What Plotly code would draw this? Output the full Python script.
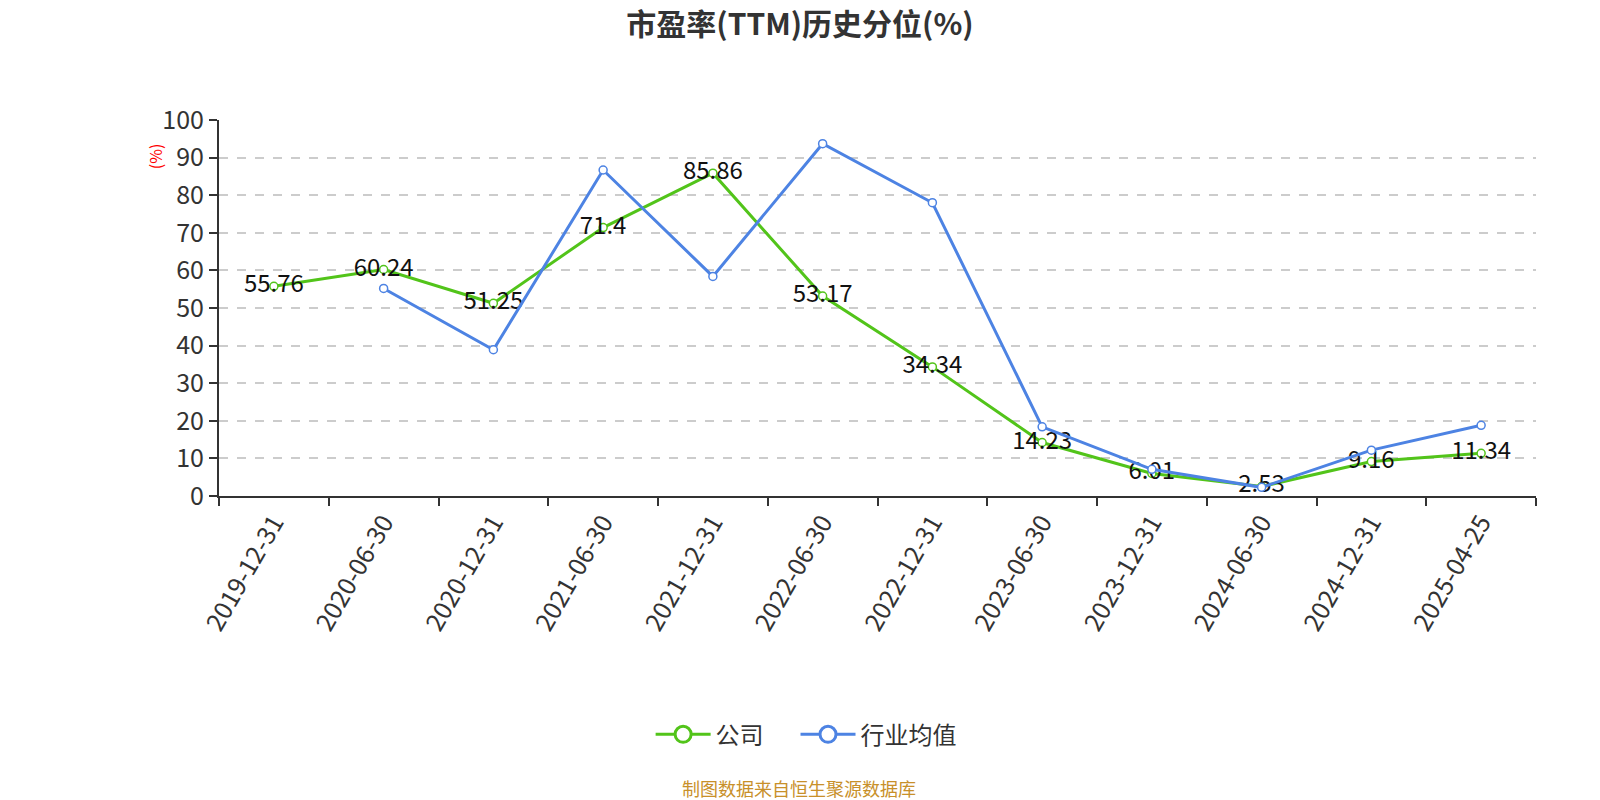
import plotly.graph_objects as go

categories = ["2019-12-31", "2020-06-30", "2020-12-31", "2021-06-30", "2021-12-31", "2022-06-30",
              "2022-12-31", "2023-06-30", "2023-12-31", "2024-06-30", "2024-12-31", "2025-04-25"]
company = [55.76, 60.24, 51.25, 71.4, 85.86, 53.17, 34.34, 14.23, 6.01, 2.53, 9.16, 11.34]
industry = [None, 55.2, 38.9, 86.7, 58.4, 93.7, 78.0, 18.4, 7.1, 2.3, 12.2, 18.8]
series_names = ["公司", "行业均值"]

FONT = "Noto Sans CJK SC"
GREEN = "#52c41a"
BLUE = "#4d83e3"

W, H = 1600, 800
S = 0.98  # screenshot scale of measured reference coords
ML = round(215 / S)
MR = W - round(1505 / S)
MT = round(118 / S)
MB = H - round(486 / S)

plot_w = W - ML - MR
plot_h = H - MT - MB

def px_x(x):
    return (x / S - ML) / plot_w

def px_y(y):
    return (H - MB - y / S) / plot_h

fig = go.Figure()
fig.add_trace(go.Scatter(
    x=categories, y=company, name=series_names[0], mode="lines+markers+text", showlegend=False,
    text=[str(v) for v in company], textposition="middle center",
    textfont=dict(family=FONT, size=24, color="#111111"),
    line=dict(color=GREEN, width=3),
    marker=dict(symbol="circle", size=8, color="white", line=dict(color=GREEN, width=1.5)),
))
fig.add_trace(go.Scatter(
    x=categories, y=industry, name=series_names[1], mode="lines+markers", showlegend=False,
    line=dict(color=BLUE, width=3),
    marker=dict(symbol="circle", size=8, color="white", line=dict(color=BLUE, width=1.5)),
))
# legend-only entries with larger symbols
pads = ["\u00a0" * 5, ""]
for name, col, pad in zip(series_names, [GREEN, BLUE], pads):
    fig.add_trace(go.Scatter(
        x=[None], y=[None], name=name + pad, mode="lines+markers",
        line=dict(color=col, width=3),
        marker=dict(symbol="circle", size=21, color="white", line=dict(color=col, width=3)),
    ))

fig.update_layout(
    width=W, height=H,
    paper_bgcolor="white", plot_bgcolor="white",
    margin=dict(l=ML, r=MR, t=MT, b=MB, autoexpand=False),
    font=dict(family=FONT, color="#333333"),
    title=dict(text="<b>市盈率(TTM)历史分位(%)</b>", x=0.5, xanchor="center", y=1 - 24 / S / H, yanchor="middle",
               font=dict(family=FONT, size=30, color="#333333")),
    showlegend=True,
    legend=dict(orientation="h", x=px_x(790), xanchor="center", y=px_y(720), yanchor="middle",
                font=dict(family=FONT, size=24, color="#333333"), itemwidth=55),
    xaxis=dict(
        type="category", tickson="boundaries", ticks="outside", ticklen=8, tickwidth=2,
        tickcolor="#333333", showline=True, linecolor="#333333", linewidth=2,
        showgrid=False, tickangle=-60, tickfont=dict(family=FONT, size=25, color="#333333"),
        range=[-0.5, 11.5], automargin=False,
    ),
    yaxis=dict(
        range=[0, 100], dtick=10, ticks="outside", ticklen=8, tickwidth=2, tickcolor="#333333",
        showline=True, linecolor="#333333", linewidth=2,
        showgrid=True, gridcolor="#cccccc", griddash="dash", gridwidth=1.5,
        zeroline=False, tickfont=dict(family=FONT, size=25, color="#333333"), automargin=False,
    ),
    annotations=[
        dict(text="(%)", x=px_x(152), y=px_y(153), xref="paper", yref="paper", showarrow=False,
             xanchor="center", yanchor="middle",
             textangle=-90, font=dict(family=FONT, size=16, color="red")),
        dict(text="制图数据来自恒生聚源数据库", x=px_x(783), xref="paper", y=px_y(772), yref="paper",
             xanchor="center", yanchor="middle", showarrow=False,
             font=dict(family=FONT, size=18, color="#c8902a")),
    ],
)

fig.write_html("out.html", config={"displayModeBar": False},
               post_script="document.body.style.margin='0';document.body.style.overflow='hidden';")
